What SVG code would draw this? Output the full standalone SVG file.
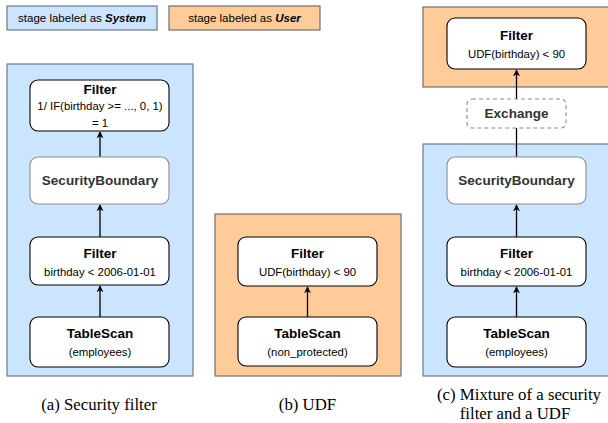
<svg xmlns="http://www.w3.org/2000/svg" width="608" height="423" viewBox="0 0 608 423">
  <style>
    .sys { fill: #cce5ff; stroke: #6c7a89; stroke-width: 1.2; }
    .usr { fill: #ffcc99; stroke: #6e6e6e; stroke-width: 1.2; }
    .node { fill: #ffffff; stroke: #000000; stroke-width: 1.1; }
    .sb { fill: #ffffff; stroke: #8c8c8c; stroke-width: 1.1; }
    .ex { fill: #ffffff; stroke: #8c8c8c; stroke-width: 1.1; stroke-dasharray: 4 3; }
    .t { font-family: "Liberation Sans", Arial, sans-serif; text-anchor: middle; fill: #000; }
    .b { font-size: 13.5px; font-weight: bold; }
    .s { font-size: 11.4px; }
    .g { fill: #333333; }
    .lg { font-family: "Liberation Sans", Arial, sans-serif; font-size: 11.5px; text-anchor: middle; fill: #000; }
    .cap { font-family: "Liberation Serif", "Times New Roman", serif; font-size: 16.8px; text-anchor: middle; fill: #000; }
    .edge { stroke: #000; stroke-width: 1.3; fill: none; marker-end: url(#arr); }
  </style>
  <defs>
    <marker id="arr" viewBox="0 0 10 10" refX="9" refY="5" markerWidth="7" markerHeight="7" markerUnits="userSpaceOnUse" orient="auto">
      <path d="M0,0 L10,5 L0,10 L3,5 Z" fill="#000"/>
    </marker>
  </defs>

  <!-- legend -->
  <g id="legend-system">
    <rect x="7" y="6" width="150" height="24" class="sys"/>
    <text x="82" y="22" class="lg">stage labeled as <tspan font-weight="bold" font-style="italic">System</tspan></text>
  </g>
  <g id="legend-user">
    <rect x="169" y="6" width="151" height="24" class="usr"/>
    <text x="244.5" y="22" class="lg">stage labeled as <tspan font-weight="bold" font-style="italic">User</tspan></text>
  </g>

  <!-- stage backgrounds -->
  <rect id="stage-a" x="7" y="64" width="186" height="312" class="sys"/>
  <rect id="stage-b" x="215" y="214" width="186" height="162" class="usr"/>
  <rect id="stage-c-user" x="423" y="7" width="188" height="80" class="usr"/>
  <rect id="stage-c-system" x="423" y="144" width="188" height="232" class="sys"/>

  <!-- connectors -->
  <g id="connectors">
    <line x1="100" y1="157" x2="100" y2="132" class="edge"/>
    <line x1="100" y1="237" x2="100" y2="205" class="edge"/>
    <line x1="100" y1="317" x2="100" y2="286" class="edge"/>
    <line x1="307.5" y1="317" x2="307.5" y2="287" class="edge"/>
    <line x1="516.5" y1="99" x2="516.5" y2="70" class="edge"/>
    <line x1="516.5" y1="157" x2="516.5" y2="128" style="stroke:#000;stroke-width:1.3"/>
    <line x1="516.5" y1="237" x2="516.5" y2="205" class="edge"/>
    <line x1="516.5" y1="317" x2="516.5" y2="287" class="edge"/>
  </g>

  <!-- (a) security filter -->
  <g id="a-filter-top">
    <rect x="30" y="80" width="139" height="51" rx="8" class="node"/>
    <text x="100" y="94" class="t b">Filter</text>
    <text x="100" y="110" class="t s">1/ IF(birthday &gt;= ..., 0, 1)</text>
    <text x="100" y="127" class="t s">= 1</text>
  </g>
  <g id="a-security-boundary">
    <rect x="30" y="157" width="139" height="47" rx="8" class="sb"/>
    <text x="100" y="185" class="t b g">SecurityBoundary</text>
  </g>
  <g id="a-filter">
    <rect x="30" y="237" width="139" height="48" rx="8" class="node"/>
    <text x="100" y="258" class="t b">Filter</text>
    <text x="100" y="276" class="t s">birthday &lt; 2006-01-01</text>
  </g>
  <g id="a-tablescan">
    <rect x="30" y="317" width="139" height="50" rx="8" class="node"/>
    <text x="100" y="338" class="t b">TableScan</text>
    <text x="100" y="356" class="t s">(employees)</text>
  </g>
  <text x="99" y="410" class="cap">(a) Security filter</text>

  <!-- (b) UDF -->
  <g id="b-filter">
    <rect x="238" y="237" width="139" height="49" rx="8" class="node"/>
    <text x="307.5" y="258" class="t b">Filter</text>
    <text x="307.5" y="276" class="t s">UDF(birthday) &lt; 90</text>
  </g>
  <g id="b-tablescan">
    <rect x="238" y="317" width="139" height="49" rx="8" class="node"/>
    <text x="307.5" y="338" class="t b">TableScan</text>
    <text x="307.5" y="356" class="t s">(non_protected)</text>
  </g>
  <text x="307.5" y="410" class="cap">(b) UDF</text>

  <!-- (c) mixture -->
  <g id="c-filter-udf">
    <rect x="447" y="18" width="139" height="51" rx="8" class="node"/>
    <text x="516.5" y="40" class="t b">Filter</text>
    <text x="516.5" y="58" class="t s">UDF(birthday) &lt; 90</text>
  </g>
  <g id="c-exchange">
    <rect x="467" y="99" width="99" height="29" rx="5" class="ex"/>
    <text x="516.5" y="118" class="t b g">Exchange</text>
  </g>
  <g id="c-security-boundary">
    <rect x="447" y="157" width="139" height="47" rx="8" class="sb"/>
    <text x="516.5" y="185" class="t b g">SecurityBoundary</text>
  </g>
  <g id="c-filter">
    <rect x="447" y="237" width="139" height="49" rx="8" class="node"/>
    <text x="516.5" y="258" class="t b">Filter</text>
    <text x="516.5" y="276" class="t s">birthday &lt; 2006-01-01</text>
  </g>
  <g id="c-tablescan">
    <rect x="447" y="317" width="139" height="50" rx="8" class="node"/>
    <text x="516.5" y="338" class="t b">TableScan</text>
    <text x="516.5" y="356" class="t s">(employees)</text>
  </g>
  <text x="519" y="400" class="cap">(c) Mixture of a security</text>
  <text x="515" y="419" class="cap">filter and a UDF</text>
</svg>
